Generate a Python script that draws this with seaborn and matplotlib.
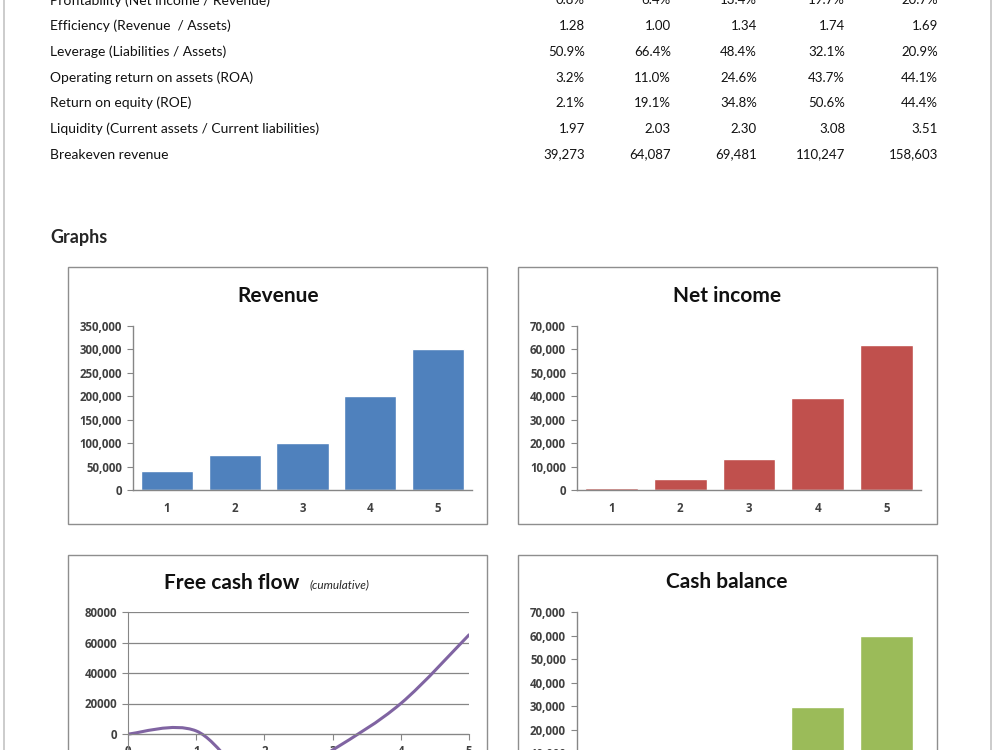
import numpy as np
import pandas as pd
import seaborn as sns
import matplotlib.pyplot as plt
from matplotlib.patches import Rectangle, PathPatch
from matplotlib.path import Path
from matplotlib.ticker import FuncFormatter, FixedLocator

# ---- data ----
ratio_labels = ["Profitability (Net income / Revenue)", "Efficiency (Revenue  / Assets)",
                "Leverage (Liabilities / Assets)", "Operating return on assets (ROA)",
                "Return on equity (ROE)", "Liquidity (Current assets / Current liabilities)",
                "Breakeven revenue"]
profitability = ["0.8%", "6.4%", "13.4%", "19.7%", "20.7%"]
efficiency = ["1.28", "1.00", "1.34", "1.74", "1.69"]
leverage = ["50.9%", "66.4%", "48.4%", "32.1%", "20.9%"]
roa = ["3.2%", "11.0%", "24.6%", "43.7%", "44.1%"]
roe = ["2.1%", "19.1%", "34.8%", "50.6%", "44.4%"]
liquidity = ["1.97", "2.03", "2.30", "3.08", "3.51"]
breakeven = ["39,273", "64,087", "69,481", "110,247", "158,603"]

years = ["1", "2", "3", "4", "5"]
revenue = [40000, 75000, 100000, 200000, 300000]
net_income = [700, 4800, 13400, 39400, 62100]
cash_balance = [6000, 4000, 8000, 29500, 60000]
fcf_years = [0, 1, 2, 3, 4, 5]
fcf_cum = [0, 2000, -36000, -10500, 20000, 65000]

sns.set_style("white")
plt.rcParams['font.family'] = ['Lato', 'DejaVu Sans']

fig = plt.figure(figsize=(10, 7.5), dpi=100)
W, H = 1000, 750


def fx(x):
    return x / W


def fy(y):
    return 1 - y / H


def add_ax(l, t, r, b):
    return fig.add_axes([fx(l), fy(b), (r - l) / W, (b - t) / H])


# page border
for x in (4, 991):
    fig.add_artist(plt.Line2D([fx(x), fx(x)], [0, 1], color='#c4c4c4', lw=1.2,
                              transform=fig.transFigure))

# ---- ratio table ----
rows = [profitability, efficiency, leverage, roa, roe, liquidity, breakeven]
col_right = [585, 671, 757, 845, 938]
for i, (lab, vals) in enumerate(zip(ratio_labels, rows)):
    y = 0.5 + 25.67 * i
    fig.text(fx(50), fy(y), lab, fontsize=10, va='center', ha='left', color='#111111')
    for xr, v in zip(col_right, vals):
        fig.text(fx(xr), fy(y), v, fontsize=9.5, va='center', ha='right', color='#111111')

fig.text(fx(50), fy(237), "Graphs", fontsize=13, fontweight='bold', va='center')

# chart frames
for (l, t, r, b) in [(68, 267, 487, 524), (518, 267, 937, 524),
                     (68, 555, 487, 900), (518, 555, 937, 900)]:
    fig.add_artist(Rectangle((fx(l), fy(b)), (r - l) / W, (b - t) / H, fill=False,
                             ec='#8e8e8e', lw=1.0, transform=fig.transFigure))

axis_gray = '#868686'
comma = FuncFormatter(lambda v, _: f"{v:,.0f}")


def tick_text(ax):
    for t in ax.get_xticklabels() + ax.get_yticklabels():
        t.set_fontfamily('Open Sans')
        t.set_fontsize(8.3)
        t.set_fontweight('bold')
        t.set_color('#404040')


def style_bar_axes(ax, ymax, step):
    ax.set_xlim(-0.5, 4.5)
    ax.set_ylim(0, ymax)
    ax.set_yticks(np.arange(0, ymax + 1, step))
    ax.yaxis.set_major_formatter(comma)
    ax.set_xlabel("")
    ax.set_ylabel("")
    for s in ("top", "right"):
        ax.spines[s].set_visible(False)
    for s in ("left", "bottom"):
        ax.spines[s].set_color(axis_gray)
        ax.spines[s].set_linewidth(1)
    ax.xaxis.set_minor_locator(FixedLocator(np.arange(-0.5, 5, 1)))
    ax.tick_params(axis='x', which='major', length=0, pad=9)
    ax.tick_params(axis='x', which='minor', length=4, color=axis_gray, direction='out')
    ax.tick_params(axis='y', length=4, color=axis_gray, direction='out', pad=4, left=True)
    tick_text(ax)
    ax.patch.set_alpha(0)


title_kw = dict(fontsize=15, fontweight='bold', va='center', color='#111111')

# ---- Revenue ----
ax1 = add_ax(133, 326, 472, 490)
sns.barplot(x=years, y=revenue, color='#4F81BD', saturation=1, width=0.77, ax=ax1)
style_bar_axes(ax1, 350000, 50000)
fig.text(fx(278), fy(296), "Revenue", ha='center', **title_kw)

# ---- Net income ----
ax2 = add_ax(577, 326, 921, 490)
sns.barplot(x=years, y=net_income, color='#C0504D', saturation=1, width=0.77, ax=ax2)
style_bar_axes(ax2, 70000, 10000)
fig.text(fx(727), fy(296), "Net income", ha='center', **title_kw)

# ---- Cash balance (lower part lies below the page edge) ----
ax4 = add_ax(577, 612, 921, 777)
sns.barplot(x=years, y=cash_balance, color='#9BBB59', saturation=1, width=0.77, ax=ax4)
style_bar_axes(ax4, 70000, 10000)
ax4.set_yticks(np.arange(10000, 70001, 10000))
ax4.tick_params(axis='x', which='major', labelbottom=False)
tick_text(ax4)
fig.text(fx(727), fy(582), "Cash balance", ha='center', **title_kw)

# ---- Free cash flow (cumulative), Excel-style smoothed line ----
ax3 = add_ax(128, 612, 469, 825.5)
ax3.set_xlim(0, 5)
ax3.set_ylim(-60000, 80000)
ax3.set_yticks(np.arange(-60000, 80001, 20000))
ax3.set_yticklabels(["" if v < 0 else str(v) for v in range(-60000, 80001, 20000)])
ax3.set_xticks(fcf_years)
ax3.yaxis.grid(True, color=axis_gray, lw=0.9)
ax3.set_axisbelow(True)
for s in ("top", "right"):
    ax3.spines[s].set_visible(False)
ax3.spines['left'].set_color(axis_gray)
ax3.spines['bottom'].set_color(axis_gray)
ax3.spines['bottom'].set_position(('data', 0))
ax3.tick_params(axis='both', length=4, color=axis_gray, direction='out', left=True, bottom=True)
ax3.tick_params(axis='x', pad=4)
ax3.tick_params(axis='y', pad=4)
tick_text(ax3)
ax3.patch.set_alpha(0)

px = np.array(fcf_years, dtype=float)
py = np.array(fcf_cum, dtype=float)
verts = [(px[0], py[0])]
codes = [Path.MOVETO]
n = len(px)
for i in range(n - 1):
    p0 = i - 1 if i > 0 else i
    p3 = i + 2 if i + 2 < n else i + 1
    c1 = (px[i] + (px[i + 1] - px[p0]) / 6, py[i] + (py[i + 1] - py[p0]) / 6)
    c2 = (px[i + 1] - (px[p3] - px[i]) / 6, py[i + 1] - (py[p3] - py[i]) / 6)
    verts += [c1, c2, (px[i + 1], py[i + 1])]
    codes += [Path.CURVE4] * 3
ax3.add_patch(PathPatch(Path(verts, codes), fill=False, ec='#8064A2', lw=2.2,
                        capstyle='round', transform=ax3.transData))

fig.text(fx(164), fy(583), "Free cash flow", ha='left', **title_kw)
fig.text(fx(310), fy(585), "(cumulative)", fontsize=8.5, style='italic', ha='left', va='center')

fig.savefig("out.png", dpi=100)
